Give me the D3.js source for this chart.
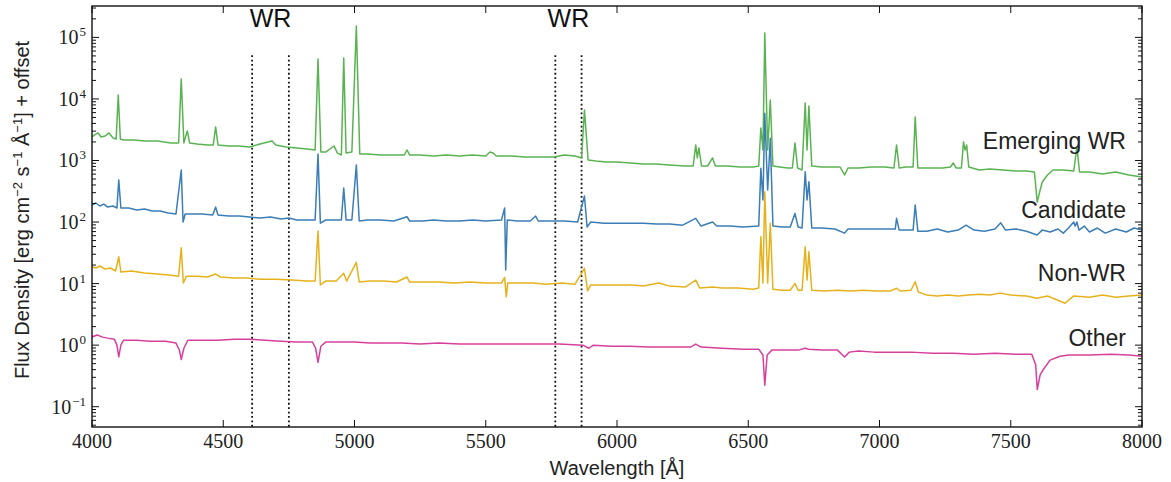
<!DOCTYPE html>
<html><head><meta charset="utf-8">
<script src="https://cdn.jsdelivr.net/npm/d3@7"></script>
<style>body{margin:0;background:#fff}</style>
</head><body><svg id="c" width="1171" height="482"></svg>
<script>
// ---------- DATA ----------
const seriesNames = ["Emerging WR", "Candidate", "Non-WR", "Other"];
const seriesColors = ["#5ab352", "#3b7db6", "#e6b21c", "#d6409c"];
const xTicks = [4000, 4500, 5000, 5500, 6000, 6500, 7000, 7500, 8000];
const yTickExps = [-1, 0, 1, 2, 3, 4, 5];
const wrLines = [4610, 4750, 5765, 5865];
const wrLabelPairs = [[4610, 4750], [5765, 5865]];

// [wavelength (Å), flux + offset]
const emergingSpec = [[4000,2410],[4010,2600],[4023,2800],[4035,2410],[4050,2500],[4065,2800],[4080,2320],[4092,2240],[4100,11600],[4108,2240],[4120,2150],[4160,2150],[4200,2070],[4250,2070],[4300,1930],[4330,1930],[4340,21100],[4350,1930],[4363,3020],[4372,1930],[4400,1850],[4440,1790],[4462,1790],[4471,3510],[4480,1790],[4520,1720],[4560,1720],[4600,1660],[4640,1850],[4670,2000],[4686,2070],[4700,1790],[4740,1660],[4780,1600],[4820,1540],[4850,1480],[4861,44700],[4872,1370],[4890,1370],[4922,1720],[4935,1320],[4950,1230],[4959,46400],[4968,1320],[4990,1370],[5007,153800],[5020,1280],[5050,1280],[5100,1230],[5150,1230],[5190,1230],[5200,1480],[5210,1230],[5250,1230],[5300,1180],[5350,1230],[5400,1180],[5450,1230],[5500,1180],[5516,1370],[5528,1320],[5540,1180],[5600,1180],[5650,1140],[5700,1140],[5760,1140],[5800,1230],[5840,1180],[5865,1100],[5876,6620],[5890,1020],[5920,980],[5960,947],[6000,947],[6050,911],[6100,877],[6150,877],[6200,845],[6260,814],[6290,814],[6300,1790],[6306,1100],[6312,1600],[6322,814],[6345,814],[6364,1100],[6375,814],[6420,814],[6470,784],[6520,784],[6540,814],[6548,3380],[6556,1480],[6563,118300],[6574,1480],[6584,9640],[6594,814],[6620,784],[6650,755],[6668,755],[6678,1930],[6688,755],[6705,701],[6717,8600],[6724,1480],[6731,7690],[6742,814],[6780,784],[6820,784],[6850,784],[6867,581],[6880,755],[6920,755],[6970,784],[7020,784],[7055,755],[7065,1790],[7075,755],[7100,784],[7128,784],[7136,5090],[7146,755],[7190,755],[7240,755],[7270,784],[7281,911],[7292,755],[7312,755],[7320,2000],[7326,1480],[7332,1790],[7340,784],[7380,701],[7420,728],[7470,701],[7520,675],[7560,675],[7590,650],[7601,211],[7612,331],[7620,447],[7640,581],[7661,701],[7700,701],[7740,675],[7752,1660],[7762,650],[7800,650],[7850,603],[7900,650],[7950,581],[8000,540]];

const candidateSpec = [[4000,189],[4015,204],[4030,182],[4045,196],[4060,175],[4080,182],[4095,169],[4102,482],[4110,169],[4140,169],[4170,157],[4200,163],[4230,151],[4260,151],[4290,140],[4320,135],[4340,701],[4347,100],[4355,135],[4380,135],[4420,135],[4460,130],[4471,175],[4480,130],[4520,125],[4560,125],[4600,121],[4640,116],[4680,121],[4720,112],[4750,116],[4780,108],[4820,108],[4850,108],[4861,1276],[4870,96],[4890,108],[4920,108],[4950,108],[4959,357],[4968,108],[4990,108],[5007,845],[5018,104],[5050,108],[5100,108],[5150,104],[5200,122],[5210,104],[5260,104],[5300,108],[5350,104],[5400,104],[5450,108],[5500,104],[5560,108],[5572,169],[5576,16.6],[5582,108],[5620,104],[5670,104],[5690,125],[5700,104],[5750,104],[5800,104],[5850,100],[5876,265],[5886,83],[5900,100],[5950,96],[6000,96],[6050,96],[6100,96],[6150,93],[6200,93],[6250,89],[6300,115],[6320,86],[6364,100],[6380,86],[6430,86],[6480,83],[6540,86],[6548,747],[6556,228],[6563,5850],[6574,331],[6584,2300],[6594,86],[6630,83],[6660,83],[6678,138],[6690,83],[6705,80],[6717,658],[6724,228],[6731,452],[6742,80],[6780,80],[6830,77],[6867,66],[6880,77],[6930,77],[6980,77],[7030,77],[7060,77],[7065,115],[7075,74],[7100,74],[7128,74],[7136,189],[7146,71],[7180,71],[7220,77],[7260,69],[7300,74],[7330,89],[7360,74],[7400,71],[7440,77],[7462,97],[7480,74],[7520,77],[7560,71],[7600,61.5],[7620,74],[7650,69],[7680,77],[7700,66],[7720,80],[7740,100],[7745,86],[7752,100],[7760,74],[7780,86],[7800,69],[7830,80],[7860,66],[7900,77],[7940,69],[7970,80],[8000,74]];

const nonWRSpec = [[4000,18.8],[4015,17.9],[4030,19.3],[4050,17.2],[4070,17.9],[4090,16.0],[4102,27.3],[4110,15.4],[4150,16.0],[4200,14.8],[4250,14.3],[4300,13.7],[4330,13.2],[4340,38.2],[4348,10.2],[4360,13.2],[4400,13.2],[4440,12.8],[4471,14.3],[4490,12.8],[4540,12.3],[4590,12.3],[4640,11.8],[4700,11.8],[4760,11.4],[4820,11.0],[4850,11.0],[4861,71.4],[4870,9.5],[4890,11.0],[4930,11.0],[4959,14.7],[4970,11.0],[5007,22.1],[5018,10.6],[5060,11.0],[5110,11.0],[5160,10.6],[5200,12.8],[5210,10.6],[5260,10.6],[5320,10.6],[5380,10.2],[5440,10.6],[5500,10.2],[5560,10.2],[5572,12.6],[5578,6.1],[5584,10.2],[5630,10.2],[5680,10.2],[5730,9.8],[5790,10.2],[5840,9.8],[5876,17.7],[5888,7.6],[5900,9.5],[5950,9.5],[6000,9.5],[6060,9.5],[6100,9.1],[6160,10.2],[6200,9.1],[6260,8.8],[6300,11.4],[6315,8.5],[6364,8.8],[6400,8.5],[6460,8.5],[6520,8.1],[6540,8.5],[6548,57.7],[6556,10.2],[6563,311],[6574,10.2],[6584,95.3],[6594,8.1],[6630,7.8],[6660,7.8],[6678,10.1],[6690,7.8],[6705,7.8],[6717,39.6],[6724,11.4],[6731,32.9],[6742,7.8],[6790,7.55],[6840,7.8],[6890,7.55],[6940,7.8],[6990,7.55],[7040,7.55],[7065,8.4],[7080,7.55],[7120,7.8],[7136,10.7],[7148,7.3],[7180,6.5],[7220,6.3],[7260,6.5],[7300,6.3],[7340,6.5],[7380,6.7],[7420,6.5],[7460,7.0],[7500,6.5],[7560,6.3],[7600,5.8],[7640,6.3],[7707,4.8],[7740,6.3],[7800,6.0],[7850,6.5],[7900,6.0],[7950,6.3],[8000,6.5]];

const otherSpec = [[4000,1.36],[4020,1.46],[4040,1.35],[4060,1.30],[4085,1.25],[4095,1.0],[4102,0.645],[4110,1.0],[4120,1.20],[4170,1.20],[4220,1.16],[4280,1.16],[4320,1.08],[4333,0.83],[4340,0.585],[4350,0.89],[4365,1.20],[4420,1.20],[4480,1.20],[4540,1.25],[4600,1.25],[4660,1.20],[4720,1.16],[4780,1.12],[4840,1.12],[4852,0.89],[4861,0.524],[4872,0.96],[4890,1.12],[4950,1.12],[5000,1.12],[5060,1.08],[5120,1.08],[5180,1.08],[5250,1.04],[5320,1.08],[5400,1.04],[5480,1.04],[5560,1.04],[5640,1.04],[5720,1.04],[5780,1.04],[5870,1.0],[5893,0.89],[5910,1.0],[5980,0.96],[6050,0.96],[6120,0.93],[6200,0.93],[6280,0.93],[6300,1.04],[6320,0.93],[6400,0.89],[6480,0.86],[6540,0.86],[6556,0.69],[6563,0.224],[6572,0.69],[6590,0.83],[6640,0.83],[6690,0.83],[6717,0.89],[6730,0.86],[6780,0.83],[6840,0.83],[6867,0.64],[6885,0.77],[6920,0.80],[6980,0.77],[7050,0.77],[7120,0.77],[7200,0.74],[7280,0.74],[7360,0.71],[7440,0.74],[7520,0.71],[7580,0.71],[7595,0.48],[7601,0.19],[7612,0.33],[7622,0.39],[7650,0.57],[7688,0.66],[7720,0.69],[7800,0.69],[7880,0.71],[7950,0.69],[8000,0.66]];

const allSpecs = [emergingSpec, candidateSpec, nonWRSpec, otherSpec];
// label anchor values (wavelength, flux) for each series name
const labelAnchors = [[7939, 1540], [7939, 116], [7939, 11], [7939, 0.965]];

// ---------- CHART ----------
const W = 1171, H = 482;
const m = {left: 92, right: 29, top: 6, bottom: 55};
const svg = d3.select("#c");
svg.append("rect").attr("width", W).attr("height", H).attr("fill", "#fff");

const x = d3.scaleLinear().domain([4000, 8000]).range([m.left, W - m.right]);
const y = d3.scaleLog().domain([Math.pow(10, -1.33), Math.pow(10, 5.51)]).range([H - m.bottom, m.top]);
const x0 = m.left, x1 = W - m.right, y0 = H - m.bottom, y1 = m.top;

svg.append("clipPath").attr("id", "clip").append("rect")
  .attr("x", x0).attr("y", y1).attr("width", x1 - x0).attr("height", y0 - y1);

// WR dotted lines
svg.append("g").selectAll("line").data(wrLines).join("line")
  .attr("x1", d => x(d)).attr("x2", d => x(d))
  .attr("y1", y(Math.pow(10, 4.71))).attr("y2", y0)
  .attr("stroke", "#111").attr("stroke-width", 1.8)
  .attr("stroke-dasharray", "1.8,2.6");

// spectra
const line = d3.line().x(d => x(d[0])).y(d => y(d[1]));
const g = svg.append("g").attr("clip-path", "url(#clip)");
allSpecs.forEach((s, i) => {
  g.append("path").datum(s).attr("d", line)
    .attr("fill", "none").attr("stroke", seriesColors[i])
    .attr("stroke-width", 1.5).attr("stroke-linejoin", "round");
});

// frame
svg.append("rect").attr("x", x0).attr("y", y1).attr("width", x1 - x0).attr("height", y0 - y1)
  .attr("fill", "none").attr("stroke", "#111").attr("stroke-width", 1.4);

// x ticks (bottom & top, inward)
const tk = svg.append("g").attr("stroke", "#111").attr("stroke-width", 1);
xTicks.forEach(t => {
  tk.append("line").attr("x1", x(t)).attr("x2", x(t)).attr("y1", y0).attr("y2", y0 - 7);
  tk.append("line").attr("x1", x(t)).attr("x2", x(t)).attr("y1", y1).attr("y2", y1 + 7);
});
// y ticks major & minor (left & right, inward)
yTickExps.forEach(e => {
  const v = y(Math.pow(10, e));
  tk.append("line").attr("x1", x0).attr("x2", x0 + 7).attr("y1", v).attr("y2", v);
  tk.append("line").attr("x1", x1).attr("x2", x1 - 7).attr("y1", v).attr("y2", v);
});
for (let e = -2; e <= 5; e++) {
  for (let k = 2; k <= 9; k++) {
    const val = k * Math.pow(10, e);
    if (val < y.domain()[0] || val > y.domain()[1]) continue;
    const v = y(val);
    tk.append("line").attr("x1", x0).attr("x2", x0 + 4).attr("y1", v).attr("y2", v);
    tk.append("line").attr("x1", x1).attr("x2", x1 - 4).attr("y1", v).attr("y2", v);
  }
}

// x tick labels
svg.append("g").selectAll("text").data(xTicks).join("text")
  .attr("x", d => x(d)).attr("y", y0 + 21)
  .attr("text-anchor", "middle").attr("font-family", "Liberation Serif, serif")
  .attr("font-size", 20).attr("fill", "#222").text(d => d);

// y tick labels 10^e
yTickExps.forEach(e => {
  const t = svg.append("text").attr("x", x0 - 6).attr("y", y(Math.pow(10, e)) + 7)
    .attr("text-anchor", "end").attr("font-family", "Liberation Serif, serif")
    .attr("font-size", 20).attr("fill", "#222");
  t.append("tspan").text("10");
  t.append("tspan").attr("dy", -8).attr("dx", 1).attr("font-size", 13)
    .text(e < 0 ? "\u2212" + Math.abs(e) : String(e));
});

// axis titles
svg.append("text").attr("x", (x0 + x1) / 2).attr("y", 475)
  .attr("text-anchor", "middle").attr("font-family", "Liberation Sans, Arial, sans-serif")
  .attr("font-size", 20).attr("fill", "#222").text("Wavelength [Å]");

const yt = svg.append("text").attr("transform", "translate(29,210) rotate(-90)")
  .attr("text-anchor", "middle").attr("font-family", "Liberation Sans, Arial, sans-serif")
  .attr("font-size", 20).attr("fill", "#222");
const sup = (s) => yt.append("tspan").attr("baseline-shift", "super").attr("font-size", 13).text(s);
yt.append("tspan").text("Flux Density [erg cm");
sup("\u22122");
yt.append("tspan").text(" s");
sup("\u22121");
yt.append("tspan").text(" Å");
sup("\u22121");
yt.append("tspan").text("] + offset");

// WR labels
wrLabelPairs.forEach(p => {
  svg.append("text").attr("x", x((p[0] + p[1]) / 2)).attr("y", y(148000))
    .attr("text-anchor", "middle").attr("font-family", "Liberation Sans, Arial, sans-serif")
    .attr("font-size", 25).attr("fill", "#111").text("WR");
});

// series labels
seriesNames.forEach((n, i) => {
  svg.append("text").attr("x", x(labelAnchors[i][0])).attr("y", y(labelAnchors[i][1]))
    .attr("text-anchor", "end").attr("font-family", "Liberation Sans, Arial, sans-serif")
    .attr("font-size", 23).attr("fill", "#222").text(n);
});
</script></body></html>
